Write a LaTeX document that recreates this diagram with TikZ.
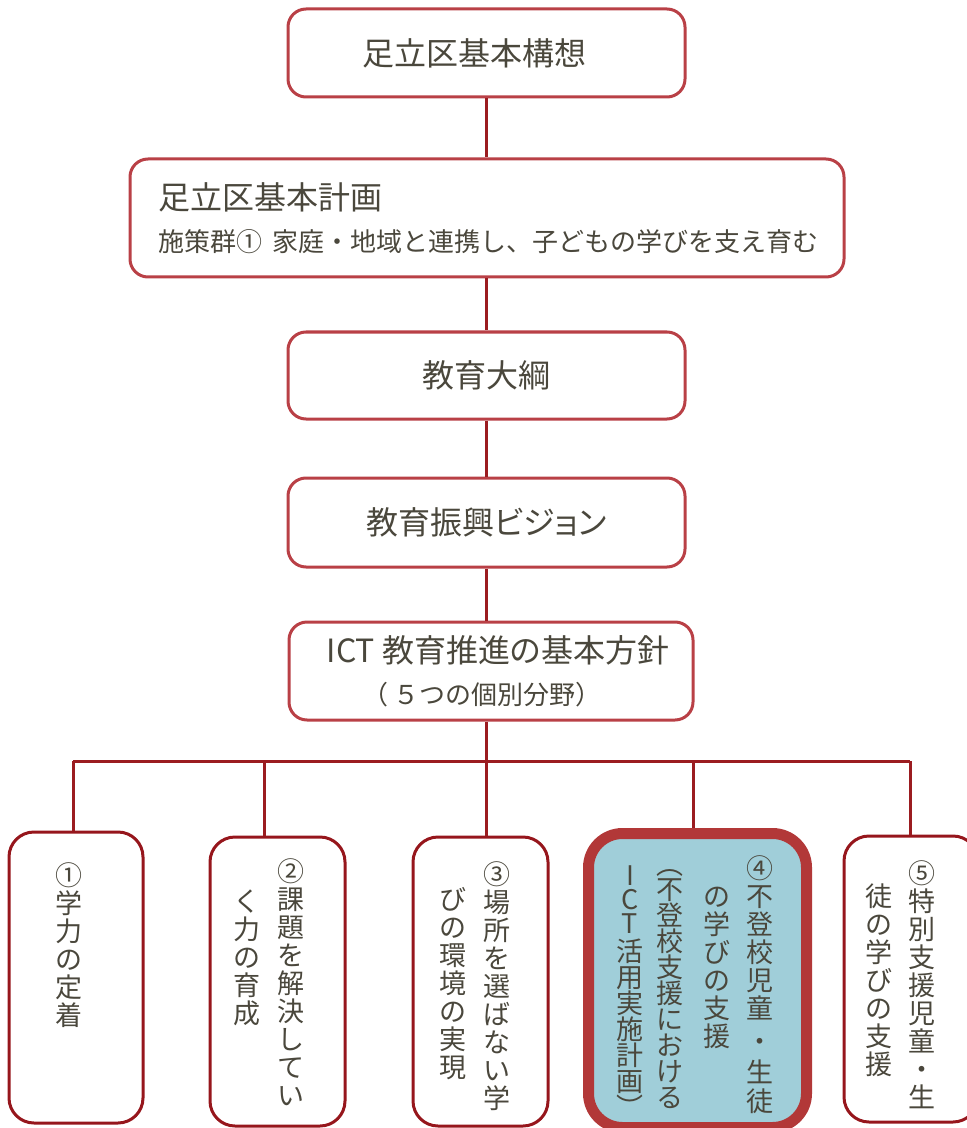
\documentclass[tikz,border=0pt]{standalone}
\usepackage{fontspec}
\setmainfont{Noto Sans CJK JP}
\newfontfamily\midashi{Noto Sans CJK JP}[RawFeature=+palt]
\setlength{\lineskiplimit}{-10pt}
\definecolor{ink}{RGB}{74,71,60}
\definecolor{boxred}{RGB}{185,64,70}
\definecolor{subred}{RGB}{150,22,28}
\definecolor{linkred}{RGB}{155,28,32}
\definecolor{keyred}{RGB}{178,56,56}
\definecolor{keyfill}{RGB}{160,206,217}
\begin{document}
\begin{tikzpicture}[x=0.5pt,y=-0.5pt,
  topbox/.style={draw=boxred,line width=1.5pt,rounded corners=9pt,text=ink,
    inner sep=0pt,font=\midashi\fontsize{16pt}{20pt}\selectfont},
  subbox/.style={draw=subred,line width=1.5pt,rounded corners=12.5pt,inner sep=0pt},
  keybox/.style={draw=keyred,fill=keyfill,line width=5.5pt,rounded corners=17pt,inner sep=0pt},
  tate/.style={text=ink,inner sep=0pt,align=center,anchor=north,
    font=\normalfont\fontsize{13.5pt}{14pt}\selectfont},
  tatenarrow/.style={tate,font=\normalfont\fontsize{13.5pt}{13pt}\selectfont},
  link/.style={draw=linkred,line width=1.5pt}]
\useasboundingbox (0,0) rectangle (967,1128);
% upper chain
\node[topbox,minimum width=198.5pt,minimum height=44pt] (kousou) at (486.5,53) {足立区基本構想\kern12pt};
\node[topbox,minimum width=357pt,minimum height=59pt,align=left,text width=329pt]
  (keikaku) at (487,218) {足立区基本計画\\[1pt]
  {\normalfont\fontsize{13pt}{20pt}\selectfont 施策群①\hspace{0.4em}家庭・地域と連携し、子どもの学びを支え育む}};
\node[topbox,minimum width=198.5pt,minimum height=43.5pt] (taiko) at (486.5,375.5) {教育大綱};
\node[topbox,minimum width=198.5pt,minimum height=44.5pt] (vision) at (486.5,522.5) {教育振興ビジョン};
\node[topbox,minimum width=202pt,minimum height=49pt,align=center] (houshin) at (491,671)
  {\hspace{7pt}ICT 教育推進の基本方針\\[1pt]{\normalfont\fontsize{13pt}{21pt}\selectfont（ ５つの個別分野）\kern9pt}};
\draw[link] (kousou.south) -- (kousou.south |- keikaku.north);
\draw[link] (kousou.south |- keikaku.south) -- (taiko.north);
\draw[link] (taiko.south) -- (vision.north);
\draw[link] (vision.south) -- (vision.south |- houshin.north);
% five fields
\node[subbox,minimum width=67pt,minimum height=145.5pt] (b1) at (76,977.5) {};
\node[subbox,minimum width=67.5pt,minimum height=144.5pt] (b2) at (277.5,981.5) {};
\node[subbox,minimum width=67.5pt,minimum height=144.5pt] (b3) at (480.5,981.5) {};
\node[keybox,minimum width=109pt,minimum height=147pt] (b4) at (697.5,980.5) {};
\node[subbox,minimum width=67pt,minimum height=143pt] (b5) at (911,979) {};
\coordinate (d1) at (73,761);
\coordinate (d2) at (264,761);
\coordinate (d3) at (486.5,761);
\coordinate (d4) at (693,761);
\coordinate (d5) at (910,761);
\draw[link] (vision.south |- houshin.south) -- (d3);
\draw[link] (d1) -- (d5);
\foreach \i in {1,...,5}
  \draw[link] (d\i) -- (b\i.north -| d\i);
% vertical text, right column first
\node[tate] (t1a) at (69,862) {①\\学\\力\\の\\定\\着};
\node[tate] (t2a) at (291,858) {②\\課\\題\\を\\解\\決\\し\\て\\い};
\node[tate] (t2b) at (247,889) {く\\力\\の\\育\\成};
\node[tate] (t3a) at (497,861) {③\\場\\所\\を\\選\\ば\\な\\い\\学};
\node[tate] (t3b) at (453,887) {び\\の\\環\\境\\の\\実\\現};
\node[tate] (t4a) at (760,855) {④\\不\\登\\校\\児\\童\\[2.5pt]・\\[1.5pt]生\\[0.5pt]徒};
\node[tate] (t4b) at (717,887) {の\\学\\び\\の\\支\\援};
\node[tatenarrow] (t4c) at (670,869) {︵\\[-0.5pt]不\\登\\校\\支\\援\\に\\お\\け\\る};
\node[tatenarrow] (t4d) at (630,865) {I\\[-1pt]C\\[-1pt]T\\[1pt]活\\用\\実\\施\\計\\画\\︶};
\node[tate] (t5a) at (922,860) {⑤\\特\\別\\支\\援\\児\\童\\・\\生};
\node[tate] (t5b) at (879,883) {徒\\の\\学\\び\\の\\支\\援};
\end{tikzpicture}
\end{document}
